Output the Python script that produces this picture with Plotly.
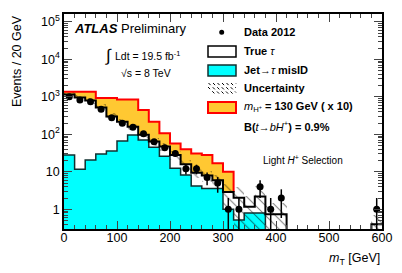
import plotly.graph_objects as go
import math

# ---------------- data ----------------
bin_edges = list(range(0, 620, 20))  # 0..600 GeV, 20 GeV bins
misid_jet = [28, 11.7, 20.6, 30, 36, 66, 96, 70, 45, 26, 12.4, 8.2, 4.2, 3.6, 3.6,
             1.0, 0.52, 0.8, 0.8, 0, 0, 0, 0, 0, 0, 0, 0, 0, 0, 0]
true_tau = [1122, 948, 779, 490, 264, 149, 64, 28, 19, 21, 15.6, 7.8, 5.3, 4.4, 2.4,
            1.9, 1.5, 0.37, 1.4, 0.74, 0.74, 0, 0, 0, 0, 0, 0, 0, 0, 0.4]
signal_x10 = [220, 410, 570, 410, 630, 635, 690, 347, 153, 59, 29, 24, 21.5, 20, 11,
              7.1, 0, 0, 0, 0, 0, 0, 0, 0, 0, 0, 0, 0, 0, 0]
data_2012 = [1000, 822, 740, 464, 277, 196, 154, 104, 63, 44, 31, 12, 12, 7, 5,
             1, 1, 0, 4, 1, 2, 0, 0, 0, 0, 0, 0, 0, 0, 1]
unc_rel = [0.18, 0.18, 0.18, 0.2, 0.2, 0.2, 0.2, 0.22, 0.22, 0.25, 0.25, 0.3, 0.3, 0.35, 0.4,
           0.6, 0.95, 0.95, 0.95, 0.95, 0.95, 0, 0, 0, 0, 0, 0, 0, 0, 0.8]
x_tick_vals = [0, 100, 200, 300, 400, 500, 600]
y_tick_vals = [1, 10, 100, 1000, 10000, 100000]
y_tick_text = ["1", "10", "10<sup>2</sup>", "10<sup>3</sup>", "10<sup>4</sup>", "10<sup>5</sup>"]

# ---------------- derived ----------------
n = len(misid_jet)
centers = [(bin_edges[i] + bin_edges[i + 1]) / 2 for i in range(n)]
total_bkg = [misid_jet[i] + true_tau[i] for i in range(n)]
total_sig = [total_bkg[i] + signal_x10[i] for i in range(n)]
FLOOR = 1e-3  # below visible range -> outline runs along the bottom

def nz(v):
    return [x if x > 0 else None for x in v]

def step(vals, upto=None):
    m = n if upto is None else upto
    xs = bin_edges[:m + 1]
    ys = [v if v > 0 else FLOOR for v in vals[:m]]
    ys = ys + [ys[-1]]
    return xs, ys

FONT = "Liberation Sans, Arial, Helvetica, sans-serif"
fig = go.Figure()

# filled histograms (overlay from largest to smallest)
fig.add_trace(go.Bar(x=centers, y=nz(total_sig), width=20, marker=dict(color="#FFC832", line=dict(width=0)),
                     hoverinfo="skip"))
fig.add_trace(go.Bar(x=centers, y=nz(total_bkg), width=20, marker=dict(color="white", line=dict(width=0)),
                     hoverinfo="skip"))
fig.add_trace(go.Bar(x=centers, y=nz(misid_jet), width=20, marker=dict(color="#00FFFF", line=dict(width=0)),
                     hoverinfo="skip"))

# outlines
last_sig = max(i for i in range(n) if signal_x10[i] > 0) + 1
sx, sy = step(total_sig, last_sig)
sy[-1] = total_bkg[last_sig - 1]
fig.add_trace(go.Scatter(x=sx, y=sy, mode="lines", line=dict(color="#FF0000", width=2, shape="hv"),
                         hoverinfo="skip"))
cx, cy = step(misid_jet)
fig.add_trace(go.Scatter(x=cx, y=cy, mode="lines", line=dict(color="#103030", width=1.5, shape="hv"),
                         hoverinfo="skip"))
tx, ty = step(total_bkg)
fig.add_trace(go.Scatter(x=tx, y=ty, mode="lines", line=dict(color="black", width=2, shape="hv"),
                         hoverinfo="skip"))

# uncertainty hatch
lo = [total_bkg[i] * (1 - unc_rel[i]) if total_bkg[i] > 0 else None for i in range(n)]
hi = [total_bkg[i] * (1 + unc_rel[i]) if total_bkg[i] > 0 else None for i in range(n)]
ht = [(hi[i] - lo[i]) if hi[i] is not None else None for i in range(n)]
fig.add_trace(go.Bar(x=centers, y=ht, base=lo, width=20,
                     marker=dict(color="rgba(0,0,0,0)", line=dict(width=0),
                                 pattern=dict(shape="\\", fgcolor="black", size=7, solidity=0.15)),
                     hoverinfo="skip"))

# data
dx = [centers[i] for i in range(n) if data_2012[i] > 0]
dy = [data_2012[i] for i in range(n) if data_2012[i] > 0]
eu = [math.sqrt(v) for v in dy]
ed = [min(math.sqrt(v), v - 0.001) for v in dy]
fig.add_trace(go.Scatter(x=dx, y=dy, mode="markers", marker=dict(color="black", size=7),
                         error_y=dict(type="data", array=eu, arrayminus=ed, color="black", thickness=1.5, width=0),
                         hoverinfo="skip"))

# ---------------- layout ----------------
# page body has an 8px default margin; compensate so the plot lands at the same window pixels
OFF = 8
W, H = 402 - OFF, 273 - OFF
L, R, T, B = 64, 382, 14, 229   # plot area in window pixels

def px(x):
    return (x - L) / (R - L)

def py(y):
    return (B - y) / (B - T)

minor_y = [k * 10 ** e for e in range(-1, 6) for k in range(2, 10)]

fig.update_layout(
    width=W, height=H, margin=dict(l=L - OFF, r=402 - R, t=T - OFF, b=273 - B, autoexpand=False),
    plot_bgcolor="white", paper_bgcolor="white", showlegend=False,
    barmode="overlay", bargap=0,
    font=dict(family=FONT, size=12, color="black"),
    xaxis=dict(range=[0, 600], tickvals=x_tick_vals, ticks="inside", ticklen=8, tickwidth=1,
               showline=True, linewidth=1.5, linecolor="black", mirror="allticks",
               showgrid=False, zeroline=False, tickfont=dict(size=12.5), ticklabelstandoff=-4,
               minor=dict(ticks="inside", ticklen=4, dtick=20, tickwidth=1, showgrid=False)),
    yaxis=dict(type="log", range=[-0.525, 5.208], tickvals=y_tick_vals, ticktext=y_tick_text,
               ticks="inside", ticklen=8, tickwidth=1, showline=True, linewidth=1.5, linecolor="black",
               mirror="allticks", showgrid=False, zeroline=False, tickfont=dict(size=12.5),
               minor=dict(ticks="inside", ticklen=4, tickvals=minor_y, tickwidth=1, showgrid=False)),
)

ann = []
def text(x, y, s, size=11, xanchor="left", yanchor="middle", angle=0):
    ann.append(dict(x=px(x), y=py(y), xref="paper", yref="paper", text=s, showarrow=False,
                    xanchor=xanchor, yanchor=yanchor, textangle=angle,
                    font=dict(family=FONT, size=size, color="black")))

text(17, 13, "Events / 20 GeV", size=12.5, xanchor="center", yanchor="top", angle=-90)
text(382, 259, "<i>m</i><sub>T</sub> [GeV]", size=12.5, xanchor="right")
text(72, 28, "<b><i>ATLAS</i></b> Preliminary", size=13)
text(103, 55, "∫", size=17)
text(113, 56, "Ldt = 19.5 fb<sup>-1</sup>", size=10.5)
text(119, 73, "√s = 8 TeV", size=10.5)
text(261, 160, "Light <i>H</i><sup>+</sup> Selection", size=10)

text(242, 32, "<b>Data 2012</b>", size=11)
text(242, 51, "<b>True</b> <i>τ</i>", size=11)
text(242, 70, "<b>Jet→</b><i>τ</i><b> misID</b>", size=11)
text(242, 88, "<b>Uncertainty</b>", size=11)
text(242, 107, "<i>m</i><sub>H<sup>+</sup></sub><b> = 130 GeV ( x 10)</b>", size=11)
text(242, 126, "<b>B(</b><i>t</i><b>→</b><i>bH</i><sup>+</sup><b>) = 0.9%</b>", size=11)

shapes = []
def box(x0, y0, x1, y1, fill, line, lw):
    shapes.append(dict(type="rect", xref="paper", yref="paper", x0=px(x0), x1=px(x1), y0=py(y1), y1=py(y0),
                       fillcolor=fill, line=dict(color=line, width=lw)))

# data marker in legend
shapes.append(dict(type="circle", xref="paper", yref="paper", x0=px(219.2), x1=px(224.2),
                   y0=py(34.8), y1=py(29.8), fillcolor="black", line=dict(color="black", width=0)))
box(208, 46, 236, 57, "white", "black", 1.5)
box(208, 65, 236, 76, "#00FFFF", "#103030", 1.5)
box(208, 102, 236, 113, "#FFC832", "#FF0000", 2)
# hatch legend
for k in range(8):
    x0 = 204 + 4.5 * k
    xa, ya, xb, yb = x0, 83, x0 + 11, 94
    if xa < 208:
        ya += (208 - xa); xa = 208
    if xb > 236:
        yb -= (xb - 236); xb = 236
    if xb > xa:
        shapes.append(dict(type="line", xref="paper", yref="paper", x0=px(xa), y0=py(ya), x1=px(xb), y1=py(yb),
                           line=dict(color="black", width=1, dash="dot")))

fig.update_layout(annotations=ann, shapes=shapes)
fig.write_html("out.html")
